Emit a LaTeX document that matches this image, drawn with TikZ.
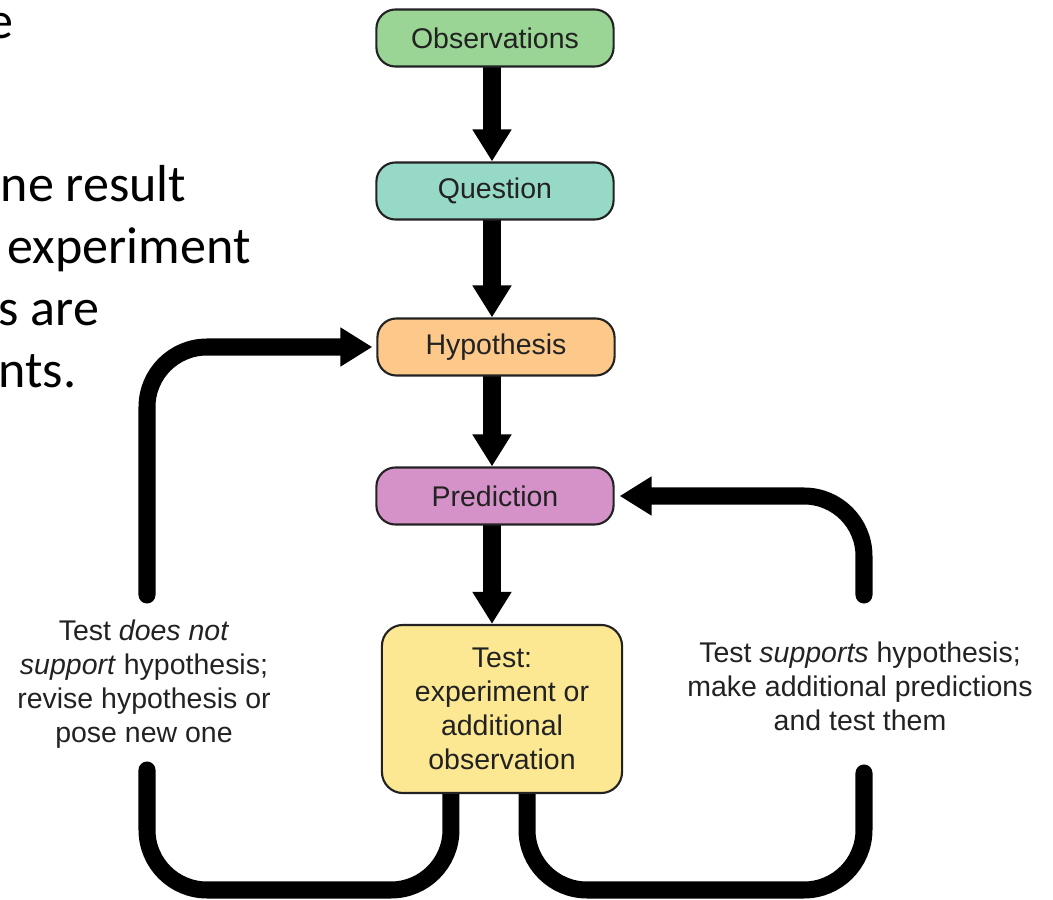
\documentclass[tikz,border=0pt]{standalone}
\usepackage{fontspec}
\setmainfont{Liberation Sans}
\newfontfamily\slidefont{Carlito}
\usetikzlibrary{arrows.meta,backgrounds}
\definecolor{obscol}{HTML}{9AD595}
\definecolor{quecol}{HTML}{97D9C7}
\definecolor{hypcol}{HTML}{FCC98B}
\definecolor{precol}{HTML}{D592C9}
\definecolor{testcol}{HTML}{FCE792}
\definecolor{inkcol}{HTML}{222222}

\begin{document}
\begin{tikzpicture}[x=0.01cm, y=-0.01cm,
  box/.style={draw=inkcol, line width=0.6pt, rounded corners=0.19cm,
    minimum width=2.37cm, minimum height=0.57cm, inner sep=0pt,
    text=inkcol, font=\fontsize{8.1}{9.7}\selectfont},
  testbox/.style={box, fill=testcol, minimum width=2.4cm, minimum height=1.68cm,
    rounded corners=0.21cm, align=center},
  note/.style={align=center, text=inkcol, inner sep=0pt,
    font=\fontsize{8.1}{9.7}\selectfont},
  slide/.style={anchor=base west, inner sep=0pt,
    font=\slidefont\fontsize{14.8}{17.8}\selectfont},
  flow/.style={line width=1.7mm, line cap=round,
    -{Triangle[length=3.2mm,width=3.7mm]}},
  loopline/.style={line width=1.7mm, line cap=round, rounded corners=0.6cm}]
\useasboundingbox (0,0) rectangle (1053,900);
\begin{scope}
\clip (0,0) rectangle (1053,900);
\node[slide] (s1) at (-13,38) {e};
\node[slide] (s2) at (0,202) {ne result};
\node[slide] (s3) at (7,264) {experiment};
\node[slide] (s4) at (-2,326) {s are};
\node[slide] (s5) at (-2,388) {nts.};
\end{scope}

\node[box, fill=obscol] (obs) at (495,38) {Observations};
\node[box, fill=quecol] (que) at (495,191) {Question};
\node[box, fill=hypcol] (hyp) at (496,347) {Hypothesis};
\node[box, fill=precol] (pre) at (495,496) {Prediction};
\node[testbox] (test) at (502,709) {Test:\\experiment or\\additional\\observation};
\node[note] (nosup) at (144,684) {Test \textit{does not}\\\textit{support} hypothesis;\\revise hypothesis or\\pose new one};
\node[note] (sup) at (860,686) {Test \textit{supports} hypothesis;\\make additional predictions\\and test them};

\coordinate (lup) at (147,595);
\coordinate (ldn) at (147,770);
\coordinate (rup) at (864,595);
\coordinate (rdn) at (864,773);

\begin{scope}[on background layer]
\draw[flow] (obs.south -| 492,0) -- (que.north -| 492,0);
\draw[flow] (que.south -| 492,0) -- (hyp.north -| 492,0);
\draw[flow] (hyp.south -| 492,0) -- (pre.north -| 492,0);
\draw[flow] (pre.south -| 492,0) -- (test.north -| 492,0);

\draw[loopline] ([xshift=-0.51cm]test.south) |- (147,890) -- (ldn);
\draw[flow, rounded corners=0.6cm] (lup) |- ([xshift=-0.04cm]hyp.west);
\draw[loopline] ([xshift=0.25cm]test.south) |- (864,890) -- (rdn);
\draw[flow, rounded corners=0.6cm] (rup) |- ([xshift=0.05cm]pre.east);
\end{scope}
\end{tikzpicture}
\end{document}
